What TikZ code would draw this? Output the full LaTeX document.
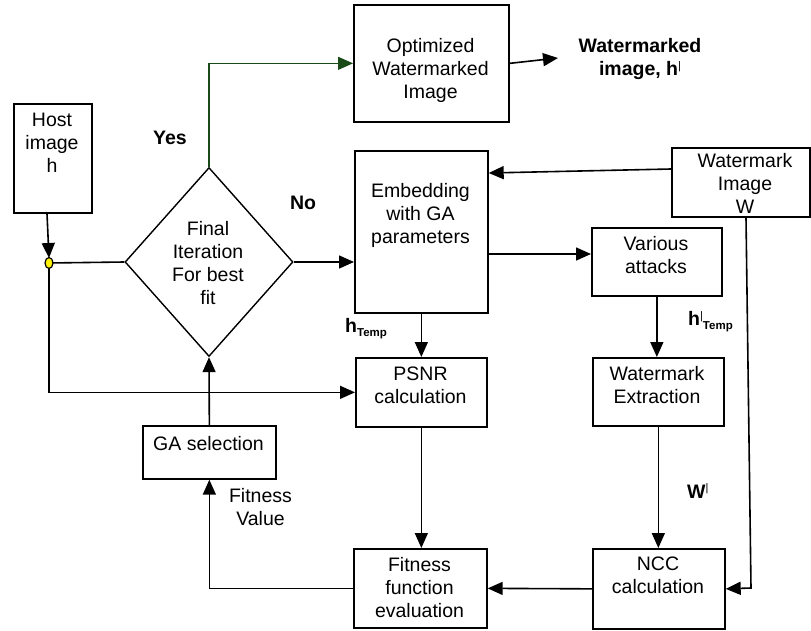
\documentclass[tikz,border=0pt]{standalone}
\usepackage{fontspec}
\setmainfont{Liberation Sans}
\usetikzlibrary{arrows.meta,shapes.geometric}
\definecolor{dkgreen}{RGB}{25,75,25}
\begin{document}
\begin{tikzpicture}[x=1pt,y=-1pt,
  font=\fontsize{19.5}{23}\selectfont,
  box/.style={draw, line width=1.7pt, inner sep=0pt, anchor=north west},
  txt/.style={align=center, inner sep=0pt, anchor=north},
  lbl/.style={inner sep=0pt, anchor=base, font=\fontsize{19.5}{23}\selectfont\bfseries},
  ln/.style={line width=1.6pt},
  arr/.style={line width=1.6pt, -{Triangle[length=15pt,width=13pt]}}]
\useasboundingbox (0,0) rectangle (811,631);
% boxes
\node[box, minimum width=78pt, minimum height=109pt] (host) at (13,103) {};
\node[box, minimum width=155pt, minimum height=117pt] (opt) at (353,4) {};
\node[box, minimum width=133pt, minimum height=162pt] (emb) at (354,150) {};
\node[box, minimum width=138pt, minimum height=69pt] (wm) at (671,147) {};
\node[box, minimum width=130pt, minimum height=68pt] (att) at (591,227) {};
\node[box, minimum width=131pt, minimum height=68pt] (ext) at (592,357) {};
\node[box, minimum width=131pt, minimum height=69pt] (psnr) at (355,357) {};
\node[box, minimum width=133pt, minimum height=53pt] (ga) at (142,425) {};
\node[box, minimum width=133pt, minimum height=79pt] (fit) at (353,548) {};
\node[box, minimum width=132pt, minimum height=80pt] (ncc) at (592,548) {};
\node[diamond, draw, line width=1.4pt, inner sep=0pt, minimum width=168pt, minimum height=189pt] (dec) at (209,262) {};
% texts
\node[txt] (hostT) at (52,113) {Host\\image\\h};
\node[txt] (optT) at (430.5,38) {Optimized\\Watermarked\\Image};
\node[txt] (decT) at (208,221) {Final\\Iteration\\For best\\fit};
\node[txt] (embT) at (420.5,183) {Embedding\\with GA\\parameters};
\node[txt] (attT) at (656,236) {Various\\attacks};
\node[txt] (wmT) at (745,153) {Watermark\\Image\\W};
\node[txt] (psnrT) at (420.5,367) {PSNR\\calculation};
\node[txt] (extT) at (657,366) {Watermark\\Extraction};
\node[txt] (gaT) at (208.5,436) {GA selection};
\node[txt] (fitT) at (419.5,557) {Fitness\\function\\evaluation};
\node[txt] (nccT) at (658,557) {NCC\\calculation};
\node[txt] (fvT) at (260.5,488) {Fitness\\Value};
\node[txt, font=\fontsize{19.5}{23}\selectfont\bfseries] (outT) at (640,38) {Watermarked\\image, h\raisebox{6pt}{\fontsize{11}{11}\selectfont\mdseries|}};
\node[lbl] (yes) at (170,145) {Yes};
\node[lbl] (no) at (303,210) {No};
\node[lbl, anchor=base west] (ht) at (345,332) {h\raisebox{-4pt}{\fontsize{11.5}{12}\selectfont Temp}};
\node[lbl, anchor=base west] (hpt) at (688,325) {h\raisebox{6pt}{\fontsize{11}{11}\selectfont\mdseries|}\raisebox{-4pt}{\fontsize{11.5}{12}\selectfont Temp}};
\node[lbl, anchor=base west] (wp) at (687,498) {W\raisebox{7pt}{\fontsize{11}{11}\selectfont\mdseries|}};
% connectors
\coordinate (out) at (558,58);
\coordinate (bend) at (751,588);
\draw[arr] ([xshift=-2pt]host.south -| 49,0) -- (49,258);
\draw[ln] (49,263) -- (dec.west);
\draw[arr] (49,263) |- (psnr.west);
\node[ellipse, draw, fill=yellow, line width=1.2pt, inner sep=0pt, minimum width=8pt, minimum height=11pt] (dot) at (49,263) {};
\draw[arr, dkgreen, line width=1.2pt] (dec.north) |- (opt.west);
\draw[arr] (opt.east) -- (out);
\draw[arr] (dec.east) -- (dec.east -| emb.west);
\draw[arr] (wm.west |- 0,169) -- (emb.east |- 0,173);
\draw[arr] (emb.east |- 0,254) -- (att.west |- 0,254);
\draw[arr] (att.south) -- (att.south |- ext.north);
\draw[arr] (emb.south) -- (emb.south |- psnr.north);
\draw[arr] (psnr.south) -- (psnr.south |- fit.north);
\draw[arr] (ext.south) -- (ext.south |- ncc.north);
\draw[arr] (ncc.west) -- (fit.east);
\draw[arr] (ga.north) -- (dec.south);
\draw[arr] (fit.west) -| (ga.south);
\draw[arr] (wm.south -| 746,0) -- (bend) -- (ncc.east);
\end{tikzpicture}
\end{document}
